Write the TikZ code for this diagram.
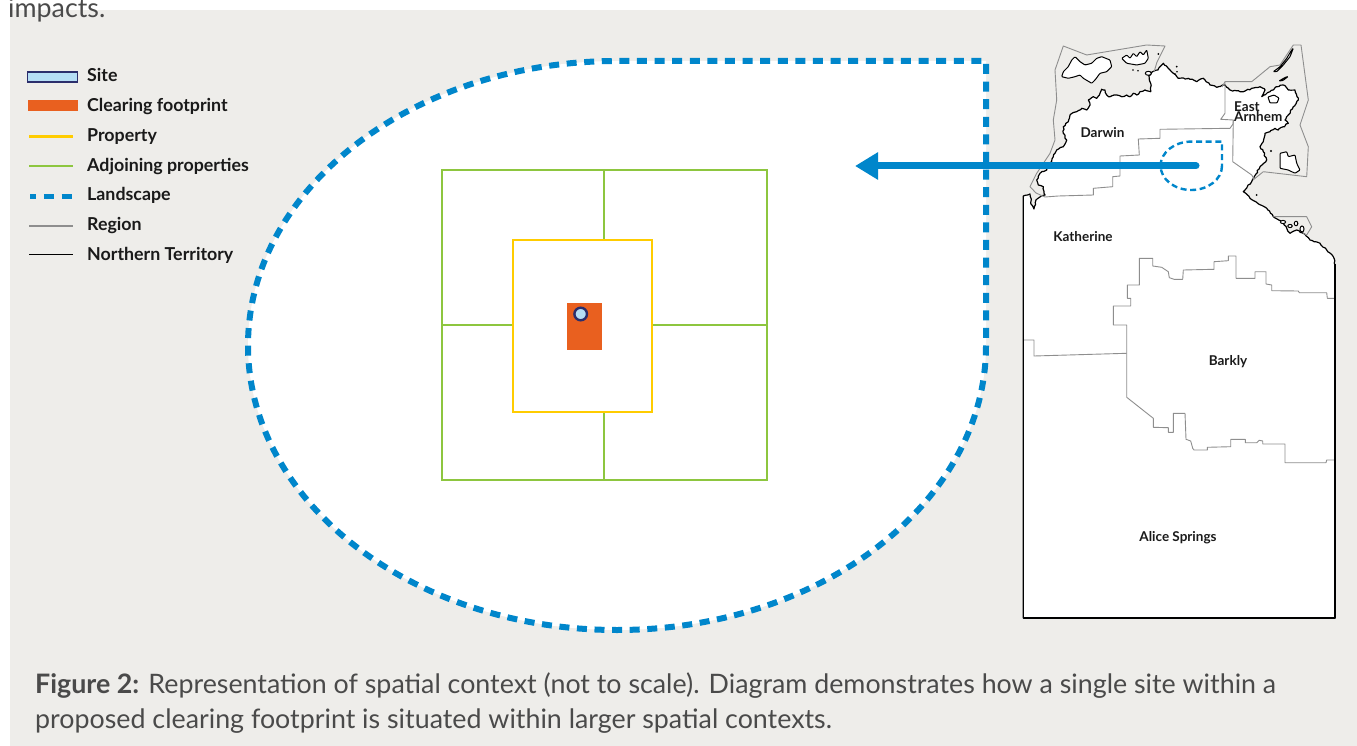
\documentclass[tikz,border=0pt]{standalone}
\usepackage{fontspec}
\setmainfont{Lato}
\usetikzlibrary{arrows.meta,decorations.pathmorphing}
\definecolor{panel}{HTML}{EEEDEA}
\definecolor{lblue}{HTML}{0086CB}
\definecolor{orangefp}{HTML}{E9601F}
\definecolor{propy}{HTML}{FFCC00}
\definecolor{adjg}{HTML}{8DC63F}
\definecolor{sitefill}{HTML}{B5DEF5}
\definecolor{navy}{HTML}{2B2E6C}
\definecolor{regiongrey}{HTML}{8E8E8E}
\definecolor{captiongrey}{HTML}{4A4A4A}
\definecolor{legtext}{HTML}{1A1A1A}
\pgfmathsetseed{7}
\begin{document}
\begin{tikzpicture}[x=1pt,y=-1pt,
  landscape/.style={lblue,line width=6pt,dash pattern=on 10pt off 7.6pt},
  smallland/.style={lblue,line width=2.4pt,dash pattern=on 6pt off 3.6pt},
  adjline/.style={adjg,line width=2.2pt},
  propline/.style={propy,line width=2.4pt},
  regionline/.style={regiongrey,line width=0.9pt,line join=round},
  ntline/.style={black,line width=1.2pt,line join=round},
  island/.style={fill=white,draw=black,line width=1pt,rounded corners=0.8pt},
  regionlbl/.style={font=\bfseries\fontsize{13.5}{15}\selectfont,text=legtext,inner sep=0pt,anchor=base},
  legtxt/.style={font=\bfseries\fontsize{17.8}{20}\selectfont,text=legtext,inner sep=0pt,anchor=base west},
  captxt/.style={font=\fontsize{26.8}{30}\selectfont,text=captiongrey,inner sep=0pt,anchor=base west},
  arrowline/.style={lblue,line width=7pt,line cap=round,-{Triangle[length=23pt,width=26pt]}}
]
\useasboundingbox (0,0) rectangle (1357,746);
\fill[white] (0,0) rectangle (1357,746);
\fill[panel] (10,10) rectangle (1357,746);

% ---------- landscape ----------
\fill[white] (986,345.5) arc[start angle=0,end angle=270,x radius=369,y radius=284.5] -- (986,61) -- cycle;
\draw[landscape] (986,345.5) arc[start angle=0,end angle=270,x radius=369,y radius=284.5] -- (986,61) -- cycle;

% ---------- adjoining properties ----------
\draw[adjline] (442,170) rectangle (767,480);
\draw[adjline] (604,170) -- (604,240);
\draw[adjline] (604,412) -- (604,480);
\draw[adjline] (442,325) -- (513,325);
\draw[adjline] (652,325) -- (767,325);
% ---------- property ----------
\draw[propline] (513,240) rectangle (652,412);
% ---------- clearing footprint & site ----------
\fill[orangefp] (567,303) rectangle (602,350);
\draw[navy,line width=2.4pt,fill=sitefill] (580.7,314) circle[radius=6.3];

% ---------- map: land ----------
\filldraw[fill=white,draw=black,line width=1.2pt,line join=round]
 (1335,618) -- (1023.3,618) -- (1023.3,196)
 decorate[decoration={random steps,segment length=2.2pt,amplitude=0.7pt}]{
 -- (1030,194) -- (1031,204) -- (1034,209) -- (1036,200) -- (1040,197) -- (1045,195)
 -- (1043.3,186.7) -- (1038.3,185) -- (1036.7,180) -- (1040,173.3) -- (1046.7,170)
 -- (1050,163.3) -- (1053.3,156.7) -- (1056.7,150) -- (1063.3,146.7) -- (1066.7,140)
 -- (1063.3,133.3) -- (1063.3,126.7) -- (1068.3,121.7) -- (1070,115) -- (1076.7,111.7)
 -- (1081.7,108.3) -- (1086.7,110) -- (1090,105) -- (1088.3,100) -- (1093.3,96.7)
 -- (1096.7,98.3) -- (1100,93.3) -- (1101.7,89.3) -- (1105,90) -- (1106.7,95)
 -- (1110,96.7) -- (1116.7,95) -- (1121.7,96.7) -- (1126.7,95) -- (1130,96.7)
 -- (1133.3,93.3) -- (1136.7,95) -- (1140,91.7) -- (1145,90) -- (1150.7,91.7)
 -- (1150.7,83.3) -- (1149,76) -- (1152,72) -- (1158,70) -- (1163.3,63.3)
 -- (1168.3,68.3) -- (1173.3,73.3) -- (1178.3,78.3) -- (1188.3,78.3) -- (1196.7,81.7)
 -- (1203.3,78.3) -- (1210,85) -- (1216.7,87.3) -- (1225,85) -- (1230,90)
 -- (1243.3,91.7) -- (1251.7,88.3) -- (1260,86.7) -- (1265,90) -- (1261.7,96.7)
 -- (1270,91.7) -- (1276.7,86.7) -- (1283.3,85) -- (1288.3,90) -- (1295,90)
 -- (1298.3,100) -- (1293.3,106.7) -- (1288.3,115) -- (1285,120) -- (1288.3,123.3)
 -- (1283.3,126.7) -- (1278.3,130) -- (1275,128.3) -- (1270,131.7) -- (1265,133.3)
 -- (1263.3,141.7) -- (1260,146.7) -- (1263.3,151.7) -- (1266.7,160) -- (1260,166.7)
 -- (1251.7,181.7) -- (1243.3,191.7) -- (1250,198.3) -- (1266.7,208.3) -- (1273.3,216.7)
 -- (1283.3,223.3) -- (1290,233.3) -- (1296.7,230) -- (1303.3,233.3) -- (1310,240)
 -- (1320,243.3) -- (1326.7,250) -- (1333.3,256.7) -- (1335,265) }
 -- cycle;

% ---------- map: region boundaries ----------
% Darwin (sea side)
\draw[regionline] (1036,193) -- (1030,186.7) -- (1036.7,173.3) -- (1050,153.3) -- (1055,140)
 -- (1053.3,120) -- (1056.7,100) -- (1055,70) -- (1063.3,46) -- (1086.7,55) -- (1146.7,45)
 -- (1165,46) -- (1157,62) -- (1154,72);
% Darwin / Katherine
\draw[regionline] (1036,193) -- (1045,197) -- (1058.3,196) -- (1093.3,195) -- (1093.3,188.3)
 -- (1112.7,186.7) -- (1112.7,176.7) -- (1120,176) -- (1120,156) -- (1139.3,155)
 -- (1138.3,139) -- (1160,138.3) -- (1160,129.3) -- (1230,128.3) -- (1233,124) -- (1233.3,120);
% East Arnhem
\draw[regionline] (1222,87) -- (1225,81.7) -- (1251.7,81.7) -- (1270,66.7) -- (1280,65)
 -- (1293.3,45) -- (1301,45) -- (1308.3,100) -- (1300,125) -- (1308.3,146.7)
 -- (1306.7,176.7) -- (1263.3,171.7) -- (1253,180);
\draw[regionline] (1225,81.7) -- (1225,113.3) -- (1220.7,119.3) -- (1233.3,120)
 -- (1232.7,161.7) -- (1251.7,175) -- (1254,179);
% Pellew islands box
\draw[regionline] (1273.3,216.7) -- (1306.7,216.7) -- (1311.7,226.7) -- (1306.7,235) -- (1303.3,233.3);
% Katherine / Alice Springs
\draw[regionline] (1024,340) -- (1034,340) -- (1034,356) -- (1126.7,353.3);
% Barkly upper
\draw[regionline] (1126.7,353.3) -- (1126.7,325) -- (1113.3,325) -- (1113.3,306) -- (1130.7,306)
 -- (1130.7,298.3) -- (1127.3,298.3) -- (1127.3,285) -- (1139.3,285) -- (1139.3,258.3)
 -- (1152.7,258.3) -- (1152.7,266) -- (1161.7,267.3) -- (1168.3,271.7) -- (1169.3,277.7)
 -- (1174,279.3) -- (1182.7,279.3) -- (1183.3,270) -- (1214,269.3) -- (1214,261.7)
 -- (1228.3,260.7) -- (1228.3,256) -- (1236,256) -- (1236,278.3) -- (1255,278.3)
 -- (1255,271.7) -- (1266,271.7) -- (1266,284) -- (1271.7,285) -- (1271.7,290.7)
 -- (1298.3,291) -- (1299.3,292.7) -- (1326.7,292.7) -- (1327.3,298.3) -- (1335,298.3);
% Barkly lower
\draw[regionline] (1126.7,353.3) -- (1126.7,397.3) -- (1153.3,418.3) -- (1153.3,427.3)
 -- (1168.3,427.7) -- (1168.3,432.3) -- (1173.3,432.3) -- (1173.3,413.3) -- (1185,413.3)
 -- (1186,439.3) -- (1190.7,441) -- (1192.7,448.3) -- (1194,450) -- (1207.3,450)
 -- (1207.3,447.3) -- (1230.7,446.7) -- (1230.7,439.3) -- (1245.3,439.3) -- (1245.3,442.7)
 -- (1256.7,442.7) -- (1259.3,440.3) -- (1262.7,441) -- (1262.7,444) -- (1285,444)
 -- (1285,462.7) -- (1326,462.7) -- (1326.7,460) -- (1335,460);
% redraw NT straight edges on top
\draw[ntline] (1023.3,196) -- (1023.3,618) -- (1335,618) -- (1335,264);

% ---------- islands ----------
\draw[island] (1061.7,76.7) -- (1063.3,71.7) -- (1068.3,66.7) -- (1071.7,60) -- (1075,56.7)
 -- (1080,61.7) -- (1085,65) -- (1091.7,63.3) -- (1096.7,58.3) -- (1101.7,56.7) -- (1110,60)
 -- (1111.7,66.7) -- (1106.7,71.7) -- (1100,73.3) -- (1095,80) -- (1091.7,83.3) -- (1083.3,78.3)
 -- (1080,75) -- (1075,76.7) -- (1068.3,78.3) -- cycle;
\draw[island] (1121.7,58.3) -- (1126.7,55) -- (1130,58.3) -- (1133.3,53.3) -- (1136.7,56.7)
 -- (1140,51.7) -- (1143.3,55) -- (1146.7,50) -- (1148.3,58.3) -- (1145,63.3) -- (1136.7,65)
 -- (1126.7,63.3) -- cycle;
\draw[island] (1273.3,71.7) -- (1280,66.7) -- (1286.7,58.3) -- (1291.7,50) -- (1293.3,48.3)
 -- (1290,56.7) -- (1283.3,65) -- (1276.7,71.7) -- cycle;
\draw[island] (1280,153.3) -- (1286.7,151.7) -- (1288.3,156.7) -- (1295,155) -- (1296.7,163.3)
 -- (1300,170) -- (1295,173.3) -- (1288.3,170) -- (1280,168.3) -- cycle;
\draw[island] (1279,81) -- (1285,77.5) -- (1288,76.5) -- (1283,80.5) -- cycle;
\draw[island] (1268,97) -- (1274,95) -- (1279,98) -- (1277,103) -- (1270,103) -- cycle;
\draw[island] (1283,222) ellipse[x radius=2.6,y radius=1.6];
\draw[island] (1290,226) ellipse[x radius=2.2,y radius=1.6];
\draw[island] (1296,223.5) ellipse[x radius=1.8,y radius=2.2];
\draw[island] (1302,229) ellipse[x radius=2,y radius=3];
\draw[island] (1148.3,73.3) ellipse[x radius=3,y radius=2];
\fill (1158.3,54) circle[radius=1];
\fill (1133,70) circle[radius=0.9];
\fill (1138,70.7) circle[radius=0.9];
\fill (1176.7,66.7) circle[radius=1];
\fill (1177,71.7) circle[radius=0.9];
\fill (1175,74) circle[radius=0.9];
\fill (1256.7,195) circle[radius=1];
\fill (1271,151) circle[radius=1.2];

% ---------- map labels ----------
\node[regionlbl] (lDarwin) at (1102.5,137.5) {Darwin};
\node[regionlbl,anchor=base west] (lEast) at (1234,111.5) {East};
\node[regionlbl,anchor=base west] (lArnhem) at (1234,121.8) {Arnhem};
\node[regionlbl] (lKath) at (1083,241) {Katherine};
\node[regionlbl] (lBarkly) at (1228,365) {Barkly};
\node[regionlbl] (lAlice) at (1178,541) {Alice Springs};

% ---------- small landscape on map ----------
\draw[smallland] (1222,165.8) arc[start angle=0,end angle=270,x radius=30.7,y radius=24.2] -- (1222,141.6) -- cycle;

% ---------- arrow ----------
\coordinate (arrS) at (1196,166);
\coordinate (arrT) at (855,166);
\draw[arrowline] (arrS) -- (arrT);

% ---------- legend ----------
\draw[navy,line width=1.8pt,fill=sitefill] (27.5,72) rectangle (77.5,81.8);
\fill[orangefp] (27.7,100.5) rectangle (77.7,110.8);
\draw[propline,line width=2.2pt] (29.3,136.5) -- (73.3,136.5);
\draw[adjline] (29.3,165.8) -- (73.3,165.8);
\draw[lblue,line width=5.3pt,dash pattern=on 10pt off 7.8pt,dash phase=4pt] (30,196.5) -- (72,196.5);
\draw[regiongrey,line width=1.8pt] (29.3,226) -- (73.3,226);
\draw[black,line width=1.8pt] (29.3,254.5) -- (73.3,254.5);
\node[legtxt] (tSite) at (87,81.7) {Site};
\node[legtxt] (tClear) at (87,111.5) {Clearing footprint};
\node[legtxt] (tProp) at (87,141.3) {Property};
\node[legtxt] (tAdj) at (87,171.1) {Adjoining properties};
\node[legtxt] (tLand) at (87,200.9) {Landscape};
\node[legtxt] (tReg) at (87,230.7) {Region};
\node[legtxt] (tNT) at (87,260.5) {Northern Territory};

% ---------- texts ----------
\node[captxt] (prev) at (8,17.5) {impacts.};
\node[captxt] (cap1) at (35,693.3) {\textbf{Figure 2:} Representation of spatial context (not to scale). Diagram demonstrates how a single site within a};
\node[captxt] (cap2) at (35,728.3) {proposed clearing footprint is situated within larger spatial contexts.};
\end{tikzpicture}
\end{document}
